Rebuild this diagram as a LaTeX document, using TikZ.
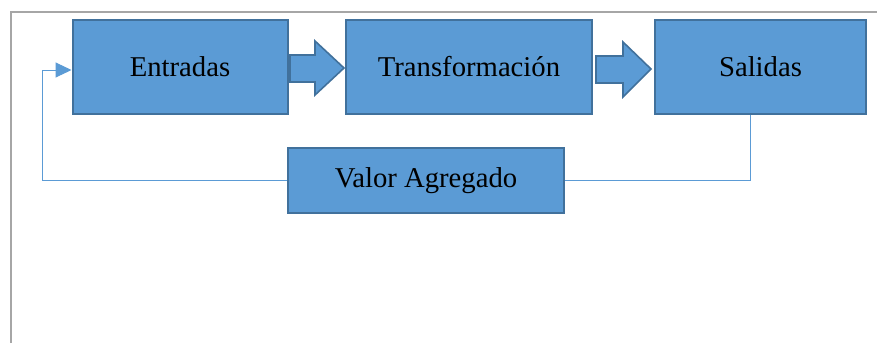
\documentclass[tikz,border=0pt]{standalone}
\usepackage{fontspec}
\setmainfont{Liberation Serif}
\usetikzlibrary{arrows.meta}
\definecolor{boxfill}{HTML}{5B9BD5}
\definecolor{boxline}{HTML}{41719C}
\definecolor{frameg}{HTML}{A6A6A6}
\begin{document}
\begin{tikzpicture}[x=1pt,y=-1pt,
  box/.style={draw=boxline, fill=boxfill, line width=2pt, inner sep=0pt, font=\fontsize{28.7}{34}\selectfont, text=black},
  blockarrow/.style={draw=boxline, fill=boxfill, line width=1.6pt, line join=miter},
  link/.style={draw=boxfill, line width=1pt}]
\useasboundingbox (0,0) rectangle (877,343);
\fill[white] (0,0) rectangle (877,343);
\draw[frameg, line width=2pt] (11,343) -- (11,12) -- (877,12);
\node[box, minimum width=215pt, minimum height=94pt] (ent) at (180,66.5) {Entradas};
\node[box, minimum width=246pt, minimum height=94pt] (tra) at (469,66.5) {Transformación};
\node[box, minimum width=211pt, minimum height=94pt] (sal) at (760.5,66.5) {Salidas};
\node[box, minimum width=276pt, minimum height=65pt] (val) at (426,180.5) {Valor Agregado};
% block arrows
\draw[blockarrow] (290,55) -- (315,55) -- (315,41) -- (344,68) -- (315,95) -- (315,82) -- (290,82) -- cycle;
\draw[blockarrow] (596,56) -- (623,56) -- (623,42) -- (651,69) -- (623,97) -- (623,83) -- (596,83) -- cycle;
% feedback
\coordinate (c1) at (750,180.5);
\coordinate (c2) at (42,180.5);
\coordinate (c3) at (42,70);
\draw[link] (sal.south -| c1) -- (c1) -- (val.east);
\draw[link, -{Triangle[length=16pt,width=15pt]}] (val.west) -- (c2) -- (c3) -- (c3 -| ent.west);
\end{tikzpicture}
\end{document}
